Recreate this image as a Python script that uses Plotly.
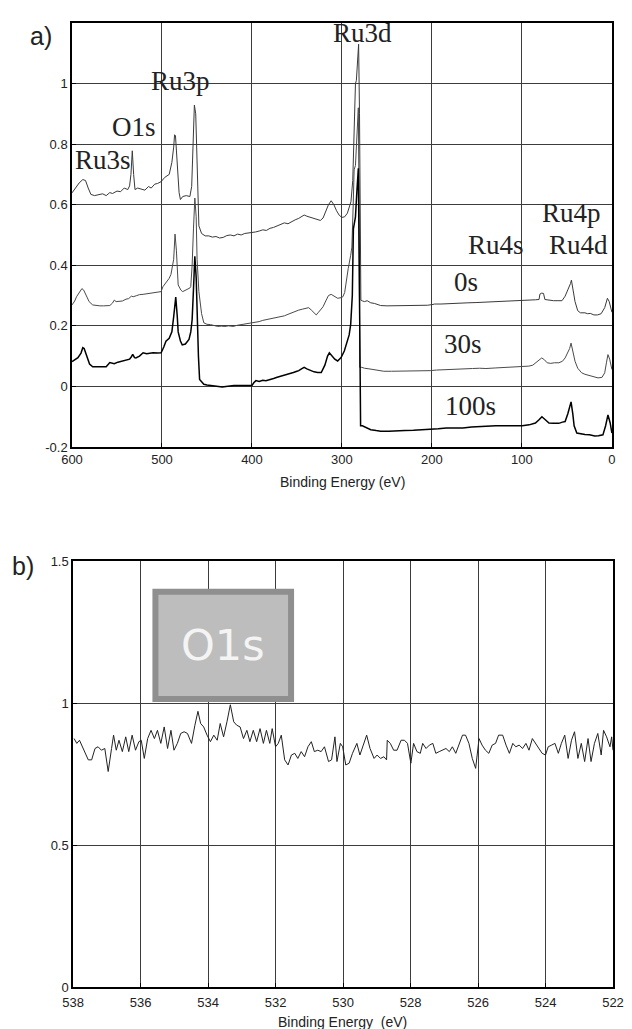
import plotly.graph_objects as go

# ---------------- Data: survey spectra (panel a) ----------------
be_0s = [600, 596, 592, 588, 585, 582, 579, 575, 570, 566, 562, 558, 555, 550, 546, 542, 538, 536,
         534.5, 533, 531.5, 530, 527, 523, 519, 515, 512, 508, 505, 501, 497, 492, 489, 487, 486,
         485, 483, 481, 479.5, 477, 473, 469, 467, 465.5, 464, 462.5, 461, 459, 456, 452, 448, 444,
         440, 436, 432, 428, 424, 420, 416, 412, 408, 404, 400, 396, 392, 388, 384, 380, 376, 372,
         368, 364, 360, 356, 352, 348, 345, 342, 339, 335, 330, 327, 324, 321, 318, 315, 312, 309,
         306, 303, 300, 297, 294, 292, 290, 288, 286.5, 285, 284, 282.5, 281.5, 280.5, 279.5, 279,
         277, 275, 272, 268, 264, 260, 257, 250, 240, 230, 220, 212, 205, 200, 197, 190, 180, 170,
         165, 160, 150, 140, 130, 120, 110, 100, 92, 85, 81, 80, 78, 76, 74.5, 70, 65, 60, 55.5, 52,
         49, 46, 45, 43.5, 41, 38, 35, 30, 27, 24, 20, 16, 12, 8, 5, 3, 1, 0]
int_0s = [0.639, 0.655, 0.672, 0.683, 0.680, 0.655, 0.634, 0.630, 0.632, 0.636, 0.630, 0.640, 0.637,
          0.645, 0.643, 0.655, 0.650, 0.662, 0.700, 0.778, 0.700, 0.650, 0.655, 0.652, 0.648, 0.660,
          0.655, 0.668, 0.670, 0.676, 0.690, 0.700, 0.740, 0.790, 0.831, 0.828, 0.720, 0.640, 0.617,
          0.627, 0.630, 0.627, 0.660, 0.800, 0.929, 0.900, 0.700, 0.530, 0.505, 0.497, 0.497, 0.493,
          0.495, 0.490, 0.492, 0.498, 0.500, 0.497, 0.503, 0.500, 0.505, 0.506, 0.509, 0.510, 0.513,
          0.517, 0.515, 0.522, 0.525, 0.530, 0.533, 0.540, 0.537, 0.545, 0.550, 0.555, 0.560, 0.566,
          0.562, 0.558, 0.555, 0.552, 0.548, 0.556, 0.580, 0.600, 0.613, 0.600, 0.580, 0.565, 0.558,
          0.560, 0.572, 0.596, 0.610, 0.680, 0.850, 1.000, 1.010, 1.080, 1.130, 0.900, 0.500, 0.285,
          0.282, 0.280, 0.283, 0.276, 0.274, 0.270, 0.267, 0.266, 0.266, 0.267, 0.267, 0.268, 0.268,
          0.270, 0.272, 0.272, 0.274, 0.274, 0.276, 0.276, 0.277, 0.278, 0.280, 0.281, 0.283, 0.284,
          0.285, 0.286, 0.287, 0.305, 0.308, 0.307, 0.287, 0.284, 0.283, 0.283, 0.283, 0.298, 0.318,
          0.340, 0.351, 0.320, 0.280, 0.250, 0.243, 0.243, 0.240, 0.241, 0.236, 0.236, 0.240, 0.260,
          0.291, 0.280, 0.255, 0.245]

be_30s = [600, 597, 595, 592, 589, 587, 584, 581, 577, 573, 569, 565, 561, 558, 555, 553, 551, 547,
          544, 540, 537, 534, 532, 528, 525, 521, 517, 513, 509, 505, 501, 499, 496, 492, 490, 487,
          485.5, 484, 482, 479, 477, 473, 469, 468, 466.5, 465, 463.5, 462, 461, 459, 456, 453.5,
          450, 446, 442, 438, 434, 430, 426, 421, 416, 412, 408, 404, 400, 396, 392, 388, 384.5, 380,
          376, 372, 368, 364, 360, 356, 352, 348, 344, 341, 337, 334, 331, 328.6, 326, 321, 318, 315,
          312, 308, 304.8, 301, 299, 297, 295.6, 293, 290.3, 289, 287.5, 286.5, 285, 283, 281.8, 281,
          280.3, 278, 275, 270, 264.5, 260, 253.5, 245, 239, 230, 220.5, 212, 202, 195, 184, 175,
          165.6, 155, 147, 140, 129, 120, 110, 100, 92.3, 88, 85, 81, 78, 75, 72, 68, 64, 59, 55, 52,
          49, 47, 45.4, 44, 41, 38, 33.7, 30, 26, 22.7, 19, 15.4, 11, 8, 6, 4.4, 2.5, 1, 0]
int_30s = [0.269, 0.282, 0.296, 0.310, 0.323, 0.318, 0.298, 0.280, 0.269, 0.267, 0.266, 0.266, 0.267,
           0.267, 0.275, 0.285, 0.280, 0.280, 0.282, 0.288, 0.290, 0.298, 0.296, 0.300, 0.303, 0.304,
           0.306, 0.308, 0.310, 0.311, 0.313, 0.329, 0.340, 0.357, 0.370, 0.420, 0.503, 0.450, 0.335,
           0.318, 0.313, 0.318, 0.325, 0.330, 0.400, 0.520, 0.622, 0.560, 0.420, 0.313, 0.240, 0.210,
           0.205, 0.204, 0.200, 0.198, 0.199, 0.198, 0.200, 0.198, 0.202, 0.204, 0.205, 0.207, 0.209,
           0.212, 0.214, 0.218, 0.220, 0.222, 0.226, 0.228, 0.230, 0.233, 0.238, 0.243, 0.248, 0.252,
           0.255, 0.258, 0.260, 0.252, 0.244, 0.236, 0.245, 0.263, 0.282, 0.300, 0.304, 0.296, 0.291,
           0.293, 0.296, 0.310, 0.345, 0.390, 0.433, 0.460, 0.600, 0.715, 0.730, 0.830, 0.920, 0.600,
           0.063, 0.063, 0.060, 0.058, 0.056, 0.052, 0.050, 0.050, 0.050, 0.051, 0.050, 0.051, 0.052,
           0.054, 0.056, 0.057, 0.058, 0.059, 0.060, 0.059, 0.061, 0.062, 0.064, 0.066, 0.067, 0.070,
           0.078, 0.088, 0.094, 0.088, 0.078, 0.076, 0.078, 0.078, 0.083, 0.094, 0.110, 0.125, 0.143,
           0.120, 0.083, 0.060, 0.045, 0.040, 0.037, 0.034, 0.032, 0.028, 0.030, 0.045, 0.080, 0.105,
           0.090, 0.065, 0.056]

be_100s = [600, 597, 593.4, 590, 588, 586.5, 585, 582.5, 580.5, 577, 573, 569, 565, 562, 558, 555,
           553, 549, 545, 540, 536, 534, 532.5, 530.5, 529, 525, 521, 517, 513, 510, 505, 501, 498,
           495.6, 492, 489, 487, 484.7, 483, 482, 479.5, 477.5, 474, 470, 468, 466.5, 465, 463.5,
           462, 461, 459.5, 458.2, 455.5, 453.5, 450, 446, 440.4, 437, 433, 429, 425, 420, 414.7,
           410, 405, 400, 398, 395.6, 392, 388, 384.5, 380, 376, 372, 368, 366, 362, 358, 354, 350,
           348, 345, 342, 339, 335, 331, 327, 323, 319, 316, 314, 311, 308, 304.8, 301, 297.4, 295,
           292, 290.3, 288.5, 287.3, 285, 283.5, 281.8, 280.5, 279.3, 277.3, 273, 268, 262, 257, 248,
           239, 230, 220.5, 212, 202, 193, 184, 175, 165.6, 156, 147, 138, 129, 120, 110, 99.6, 92,
           85, 81, 77.8, 74, 70, 65, 59, 55, 52, 49, 47, 45.4, 43.5, 42, 39, 35, 30, 25, 19, 15, 10,
           7, 4.4, 2, 0]
int_100s = [0.082, 0.088, 0.095, 0.110, 0.128, 0.125, 0.111, 0.090, 0.074, 0.065, 0.065, 0.066, 0.065,
            0.065, 0.079, 0.077, 0.075, 0.080, 0.083, 0.086, 0.090, 0.098, 0.106, 0.095, 0.094, 0.100,
            0.111, 0.108, 0.110, 0.111, 0.110, 0.111, 0.130, 0.149, 0.159, 0.180, 0.230, 0.295, 0.230,
            0.180, 0.150, 0.137, 0.140, 0.155, 0.180, 0.220, 0.320, 0.430, 0.360, 0.240, 0.100, 0.023,
            0.012, 0.007, 0.005, 0.003, 0.001, -0.001, -0.002, 0.000, 0.002, 0.003, 0.003, 0.003, 0.003,
            0.003, 0.012, 0.019, 0.016, 0.020, 0.019, 0.024, 0.026, 0.030, 0.033, 0.036, 0.038, 0.042,
            0.046, 0.050, 0.052, 0.058, 0.063, 0.058, 0.052, 0.048, 0.046, 0.046, 0.070, 0.100, 0.111,
            0.100, 0.090, 0.084, 0.095, 0.117, 0.140, 0.170, 0.205, 0.300, 0.520, 0.560, 0.640, 0.720,
            0.300, -0.130, -0.130, -0.136, -0.143, -0.146, -0.148, -0.148, -0.148, -0.146, -0.145,
            -0.144, -0.143, -0.140, -0.137, -0.137, -0.137, -0.134, -0.132, -0.131, -0.130, -0.130,
            -0.130, -0.130, -0.127, -0.121, -0.110, -0.100, -0.110, -0.121, -0.122, -0.122, -0.118,
            -0.116, -0.090, -0.070, -0.051, -0.090, -0.130, -0.154, -0.157, -0.159, -0.160, -0.164,
            -0.163, -0.160, -0.130, -0.094, -0.120, -0.154]

# ---------------- Data: O1s region (panel b) ----------------
be_o1s = [537.97, 537.89, 537.81, 537.72, 537.55, 537.45, 537.35, 537.26, 537.16, 537.06, 536.96,
          536.86, 536.80, 536.72, 536.64, 536.54, 536.44, 536.35, 536.25, 536.15, 536.05, 535.98,
          535.89, 535.79, 535.69, 535.59, 535.50, 535.40, 535.30, 535.20, 535.10, 535.01, 534.91,
          534.81, 534.71, 534.61, 534.49, 534.39, 534.30, 534.22, 534.13, 534.03, 533.93, 533.83,
          533.73, 533.64, 533.54, 533.44, 533.34, 533.24, 533.15, 533.05, 532.95, 532.85, 532.76,
          532.66, 532.56, 532.46, 532.36, 532.27, 532.17, 532.10, 532.00, 531.92, 531.83, 531.73,
          531.63, 531.53, 531.43, 531.34, 531.24, 531.14, 531.04, 530.94, 530.85, 530.75, 530.65,
          530.55, 530.43, 530.34, 530.24, 530.18, 530.08, 530.01, 529.92, 529.82, 529.72, 529.59,
          529.50, 529.40, 529.30, 529.20, 529.08, 528.99, 528.89, 528.79, 528.71, 528.69, 528.60,
          528.50, 528.40, 528.28, 528.18, 528.09, 527.99, 527.91, 527.81, 527.71, 527.64, 527.54,
          527.44, 527.34, 527.25, 527.15, 527.05, 526.95, 526.85, 526.76, 526.66, 526.56, 526.46,
          526.37, 526.27, 526.17, 526.07, 525.97, 525.88, 525.78, 525.68, 525.58, 525.48, 525.39,
          525.27, 525.17, 525.07, 524.97, 524.88, 524.78, 524.68, 524.58, 524.49, 524.39, 524.29,
          524.19, 524.10, 524.00, 523.92, 523.82, 523.72, 523.62, 523.53, 523.43, 523.33, 523.23,
          523.14, 523.04, 522.94, 522.84, 522.74, 522.65, 522.55, 522.45, 522.35, 522.28, 522.19,
          522.09, 522.04, 522.00]
int_o1s = [0.875, 0.858, 0.869, 0.846, 0.800, 0.800, 0.840, 0.846, 0.834, 0.840, 0.759, 0.840, 0.887,
           0.834, 0.869, 0.829, 0.881, 0.829, 0.887, 0.834, 0.864, 0.869, 0.805, 0.875, 0.904, 0.875,
           0.904, 0.858, 0.916, 0.840, 0.904, 0.834, 0.858, 0.893, 0.899, 0.893, 0.858, 0.922, 0.971,
           0.928, 0.916, 0.887, 0.864, 0.887, 0.869, 0.928, 0.881, 0.934, 0.994, 0.934, 0.922, 0.916,
           0.875, 0.904, 0.864, 0.904, 0.864, 0.910, 0.858, 0.904, 0.858, 0.910, 0.846, 0.858, 0.887,
           0.800, 0.782, 0.817, 0.823, 0.805, 0.829, 0.811, 0.846, 0.864, 0.829, 0.834, 0.829, 0.846,
           0.794, 0.800, 0.881, 0.794, 0.858, 0.846, 0.782, 0.788, 0.823, 0.858, 0.817, 0.852, 0.887,
           0.840, 0.805, 0.817, 0.805, 0.811, 0.800, 0.869, 0.858, 0.834, 0.834, 0.869, 0.869, 0.858,
           0.788, 0.858, 0.829, 0.823, 0.858, 0.840, 0.852, 0.858, 0.823, 0.829, 0.834, 0.840, 0.829,
           0.846, 0.823, 0.858, 0.887, 0.887, 0.858, 0.805, 0.770, 0.875, 0.852, 0.834, 0.823, 0.852,
           0.858, 0.887, 0.887, 0.852, 0.823, 0.858, 0.846, 0.852, 0.840, 0.858, 0.834, 0.875, 0.858,
           0.840, 0.823, 0.817, 0.846, 0.852, 0.858, 0.823, 0.858, 0.887, 0.805, 0.869, 0.899, 0.805,
           0.858, 0.794, 0.875, 0.794, 0.858, 0.893, 0.817, 0.904, 0.881, 0.846, 0.881, 0.834]

ticks_a_x = [600, 500, 400, 300, 200, 100, 0]
ticks_a_y = [-0.2, 0, 0.2, 0.4, 0.6, 0.8, 1]
ticks_a_ytext = ["-0.2", "0", "0.2", "0.4", "0.6", "0.8", "1"]
ticks_b_x = [538, 536, 534, 532, 530, 528, 526, 524, 522]
ticks_b_y = [0, 0.5, 1, 1.5]
ticks_b_ytext = ["0", "0.5", "1", "1.5"]

peak_labels = ["Ru3d", "Ru3p", "O1s", "Ru3s", "Ru4p", "Ru4s", "Ru4d", "0s", "30s", "100s"]
peak_x = [277, 479, 530.6, 566, 45, 129, 37, 162, 165, 157]
peak_y = [1.167, 1.01, 0.856, 0.748, 0.574, 0.466, 0.466, 0.344, 0.141, -0.066]

fig = go.Figure()
fig.add_trace(go.Scatter(x=be_0s, y=int_0s, mode="lines", line=dict(color="#3a3a3a", width=1),
                         xaxis="x", yaxis="y", showlegend=False))
fig.add_trace(go.Scatter(x=be_30s, y=int_30s, mode="lines", line=dict(color="#4a4a4a", width=1),
                         xaxis="x", yaxis="y", showlegend=False))
fig.add_trace(go.Scatter(x=be_100s, y=int_100s, mode="lines", line=dict(color="#000000", width=1.5),
                         xaxis="x", yaxis="y", showlegend=False))
fig.add_trace(go.Scatter(x=be_o1s, y=int_o1s, mode="lines", line=dict(color="#222222", width=1),
                         xaxis="x2", yaxis="y2", showlegend=False))

tickfont = dict(family="Liberation Sans, Arial", size=13, color="#222")
axis_common = dict(showline=True, linecolor="black", linewidth=1.5, mirror=True,
                   showgrid=True, gridcolor="#3c3c3c", gridwidth=1, zeroline=False,
                   ticks="inside", ticklen=4, tickcolor="black", tickfont=tickfont)

# the page body adds an 8px offset, so the figure is sized/margined accordingly
fig.update_layout(
    width=624, height=1021,
    margin=dict(l=64, r=14, t=8, b=42),
    paper_bgcolor="white", plot_bgcolor="white",
    xaxis=dict(domain=[0, 0.998], anchor="y", range=[600, 0], tickmode="array",
               tickvals=ticks_a_x, ticktext=[str(v) for v in ticks_a_x], **axis_common),
    yaxis=dict(domain=[0.5602, 1.0], anchor="x", range=[-0.2, 1.2], tickmode="array",
               tickvals=ticks_a_y, ticktext=ticks_a_ytext, **axis_common),
    xaxis2=dict(domain=[0.002, 1.0], anchor="y2", range=[538, 522], tickmode="array",
                tickvals=ticks_b_x, ticktext=[str(v) for v in ticks_b_x],
                ticklabelstandoff=3, **axis_common),
    yaxis2=dict(domain=[0.0, 0.4418], anchor="x2", range=[0, 1.5], tickmode="array",
                tickvals=ticks_b_y, ticktext=ticks_b_ytext, **axis_common),
)

annotations = []
serif = dict(family="Liberation Serif, Times New Roman", size=27, color="#222")
for t, x, y in zip(peak_labels, peak_x, peak_y):
    annotations.append(dict(text=t, x=x, y=y, xref="x", yref="y", showarrow=False,
                            font=serif, xanchor="center", yanchor="middle"))

annotations += [
    dict(text="a)", x=-0.057, y=0.987, xref="paper", yref="paper", showarrow=False,
         font=dict(family="Liberation Sans, Arial", size=25, color="#222"),
         xanchor="center", yanchor="middle"),
    dict(text="b)", x=-0.09, y=0.437, xref="paper", yref="paper", showarrow=False,
         font=dict(family="Liberation Sans, Arial", size=25, color="#222"),
         xanchor="center", yanchor="middle"),
    dict(text="Binding Energy (eV)", x=0.5, y=0.524, xref="paper", yref="paper", showarrow=False,
         font=dict(family="Liberation Sans, Arial", size=14, color="#222"),
         xanchor="center", yanchor="middle"),
    dict(text="Binding Energy  (eV)", x=0.5, y=-0.036, xref="paper", yref="paper", showarrow=False,
         font=dict(family="Liberation Sans, Arial", size=14, color="#222"),
         xanchor="center", yanchor="middle"),
    dict(text="O1s", x=533.55, y=1.203, xref="x2", yref="y2", showarrow=False,
         font=dict(family="DejaVu Sans, Verdana", size=43, color="#f4f4f4"),
         xanchor="center", yanchor="middle"),
]
fig.update_layout(annotations=annotations)

fig.add_shape(type="rect", xref="x2", yref="y2", x0=535.56, x1=531.54, y0=1.014, y1=1.392,
              fillcolor="#bdbdbd", line=dict(color="#8f8f8f", width=6), layer="above")

fig.write_html("out.html")
